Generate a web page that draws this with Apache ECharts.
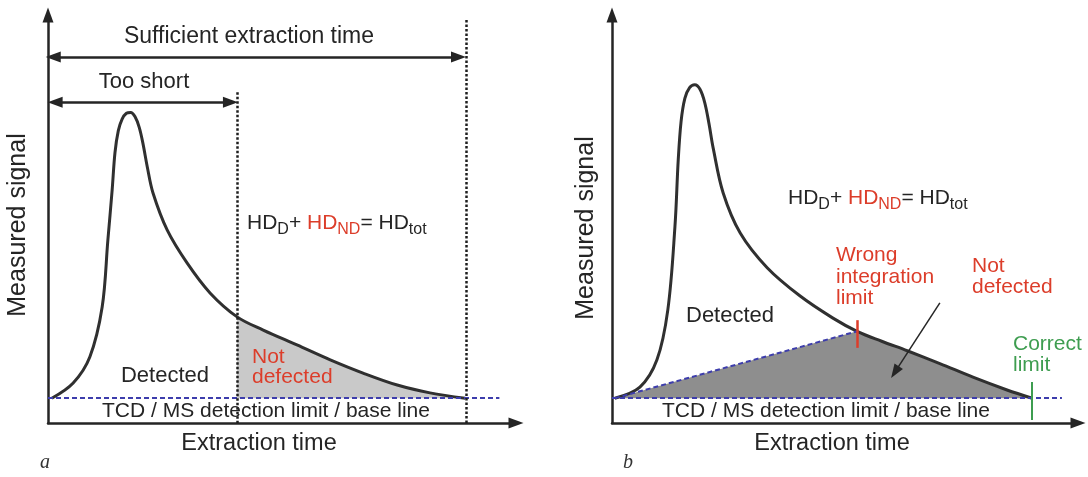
<!DOCTYPE html>
<html>
<head>
<meta charset="utf-8">
<script src="https://cdn.jsdelivr.net/npm/echarts@6/dist/echarts.min.js"></script>
<style>
  html, body { margin: 0; padding: 0; background: #ffffff; }
  #chart { width: 1088px; height: 477px; }
</style>
</head>
<body>
<div id="chart"></div>
<script>
// time runs 0..100 along x, signal 0..100 along y (arbitrary units)
var baseline = 6;

// panel a: desorption peak
var curveA = [
  [0.8, 6], [5.3, 9.7], [8.8, 16.0], [11.4, 28.1], [12.6, 44.3], [13.5, 56.4],
  [14.1, 65.5], [14.8, 70.8], [15.6, 73.6], [16.5, 75.0], [17.4, 75.2],
  [18.3, 74.2], [19.2, 71.6], [20.0, 67.6], [20.9, 62.0], [22.1, 55.7],
  [25.1, 46.7], [29.3, 38.7], [34.1, 31.5], [39.8, 25.7],
  [45.3, 22.5], [52.4, 18.9], [59.4, 15.3], [66.3, 12.1], [73.5, 9.2],
  [80.4, 7.3], [87.8, 6]
];
var tooShortEnd = 39.8;
var sufficientEnd = 88.0;

// panel b: same kind of peak, wrong vs correct limit
var curveB = [
  [0.6, 6], [5.9, 8.7], [9.5, 15.3], [11.8, 27.4], [13.3, 47.5], [14.0, 63.7],
  [14.6, 73.0], [15.4, 78.6], [16.4, 81.2], [17.5, 81.9], [18.6, 80.8],
  [19.6, 77.6], [20.5, 72.5], [21.4, 66.5],
  [23.5, 55.7], [27.1, 46.0], [32.8, 37.6], [39.7, 30.8], [46.7, 25.4],
  [51.8, 22.2], [57.0, 19.8], [62.4, 17.5], [69.3, 14.4], [76.3, 11.1], [83.5, 8.0],
  [88.8, 6]
];
var wrongLimit = [51.8, 22.2];
var correctLimit = 88.8;

var tailA = curveA.filter(function (p) { return p[0] >= tooShortEnd; });
var fillB = [curveB[0]].concat(curveB.filter(function (p) { return p[0] >= wrongLimit[0]; }));

var ink = '#252525';
var red = '#dc3d2a';
var green = '#3e9d50';
var blue = '#3d3dac';
var font = 'Liberation Sans, Arial, sans-serif';

function axis(max) {
  return {
    type: 'value', min: 0, max: max,
    axisLine: { show: true, onZero: false, symbol: ['none', 'triangle'], symbolSize: [11, 15],
      lineStyle: { color: ink, width: 2.5 } },
    axisTick: { show: false }, axisLabel: { show: false }, splitLine: { show: false }
  };
}

function seg(p1, p2, style, endSymbols) {
  var s = endSymbols || ['none', 'none'];
  return [
    { coord: p1, symbol: s[0], lineStyle: style },
    { coord: p2, symbol: s[1] }
  ];
}

var dotted = { color: '#1e1e1e', width: 2.5, type: [2.5, 2] };
var dashed = { color: blue, width: 2, type: [5, 3] };
var solid = { color: ink, width: 2.5, type: 'solid' };

var chart = echarts.init(document.getElementById('chart'));

function txt(x, y, text, size, color, opts) {
  var o = opts || {};
  return {
    type: 'text', x: x, y: y, z: 100, rotation: o.rotation || 0, silent: true,
    style: {
      text: text, fontSize: size, fontFamily: o.family || font, fontStyle: o.italic ? 'italic' : 'normal',
      fill: color, align: o.align || 'center', verticalAlign: 'middle', lineHeight: o.lh || size
    }
  };
}

function formula(x, y) {
  var base = { fontSize: 21, fontFamily: font, fill: ink, lineHeight: 24 };
  var sub = { fontSize: 16, fontFamily: font, fill: ink, lineHeight: 16, padding: [14, 0, 0, 0] };
  return {
    type: 'text', x: x, y: y, z: 100, silent: true,
    style: {
      text: '{m|HD}{s|D}{m|+ }{mr|HD}{sr|ND}{m|= HD}{s|tot}',
      align: 'left', verticalAlign: 'top',
      rich: {
        m: base,
        mr: Object.assign({}, base, { fill: red }),
        s: sub,
        sr: Object.assign({}, sub, { fill: red })
      }
    }
  };
}

chart.setOption({
  animation: false,
  grid: [
    { left: 48, top: 15, width: 468, height: 408 },
    { left: 612, top: 15, width: 466, height: 408 }
  ],
  xAxis: [Object.assign(axis(98.5), { gridIndex: 0 }), Object.assign(axis(98.5), { gridIndex: 1 })],
  yAxis: [Object.assign(axis(98.8), { gridIndex: 0 }), Object.assign(axis(98.8), { gridIndex: 1 })],
  series: [
    {
      type: 'line', xAxisIndex: 0, yAxisIndex: 0, data: tailA, smooth: 0.35, symbol: 'none', z: 1,
      lineStyle: { width: 0 }, areaStyle: { color: '#c9c9c9', opacity: 1, origin: baseline }
    },
    {
      type: 'line', xAxisIndex: 0, yAxisIndex: 0, data: curveA, smooth: 0.35, symbol: 'none', z: 3,
      lineStyle: { color: '#303030', width: 3 },
      markLine: {
        silent: true, symbolSize: [11, 15], label: { show: false },
        data: [
          seg([0, baseline], [95, baseline], dashed),
          seg([tooShortEnd, 80.1], [tooShortEnd, 0], dotted),
          seg([sufficientEnd, 97.6], [sufficientEnd, 0], dotted),
          seg([1.1, 88.6], [86.4, 88.6], solid, ['triangle', 'triangle']),
          seg([1.5, 77.7], [38.4, 77.7], solid, ['triangle', 'triangle'])
        ]
      }
    },
    {
      type: 'line', xAxisIndex: 1, yAxisIndex: 1, data: fillB, smooth: false, symbol: 'none', z: 1,
      lineStyle: { width: 0 }, areaStyle: { color: '#8e8e8e', opacity: 1, origin: baseline }
    },
    {
      type: 'line', xAxisIndex: 1, yAxisIndex: 1, data: curveB, smooth: 0.35, symbol: 'none', z: 3,
      lineStyle: { color: '#303030', width: 3 },
      markLine: {
        silent: true, symbolSize: [10, 14], label: { show: false },
        data: [
          seg([0, baseline], [95.1, baseline], dashed),
          seg(curveB[0], wrongLimit, dashed),
          seg([wrongLimit[0], 24.9], [wrongLimit[0], 18.2], { color: red, width: 2.5, type: 'solid' }),
          seg([correctLimit, 9.9], [correctLimit, 0.7], { color: green, width: 2, type: 'solid' }),
          seg([69.3, 29.1], [59.8, 12.3], { color: ink, width: 1.5, type: 'solid' }, ['none', 'triangle'])
        ]
      }
    }
  ],
  graphic: [
    txt(249, 37, 'Sufficient extraction time', 23, ink),
    txt(144, 82, 'Too short', 22, ink),
    formula(247, 211),
    txt(165, 376, 'Detected', 22, ink),
    txt(252, 367, 'Not\ndefected', 21, red, { align: 'left', lh: 20 }),
    txt(266, 411, 'TCD / MS detection limit / base line', 21, ink),
    txt(259, 444, 'Extraction time', 23.5, ink),
    txt(18, 225, 'Measured signal', 25, ink, { rotation: Math.PI / 2 }),
    txt(45, 463, 'a', 20, '#333', { family: 'Liberation Serif, serif', italic: true }),

    formula(788, 186),
    txt(686, 316, 'Detected', 22, ink, { align: 'left' }),
    txt(836, 277, 'Wrong\nintegration\nlimit', 21, red, { align: 'left', lh: 21.5 }),
    txt(972, 277, 'Not\ndefected', 21, red, { align: 'left', lh: 21 }),
    txt(1013, 355, 'Correct\nlimit', 21, green, { align: 'left', lh: 21 }),
    txt(826, 411, 'TCD / MS detection limit / base line', 21, ink),
    txt(832, 444, 'Extraction time', 23.5, ink),
    txt(586, 228, 'Measured signal', 25, ink, { rotation: Math.PI / 2 }),
    txt(628, 463, 'b', 20, '#333', { family: 'Liberation Serif, serif', italic: true })
  ]
});
</script>
</body>
</html>
